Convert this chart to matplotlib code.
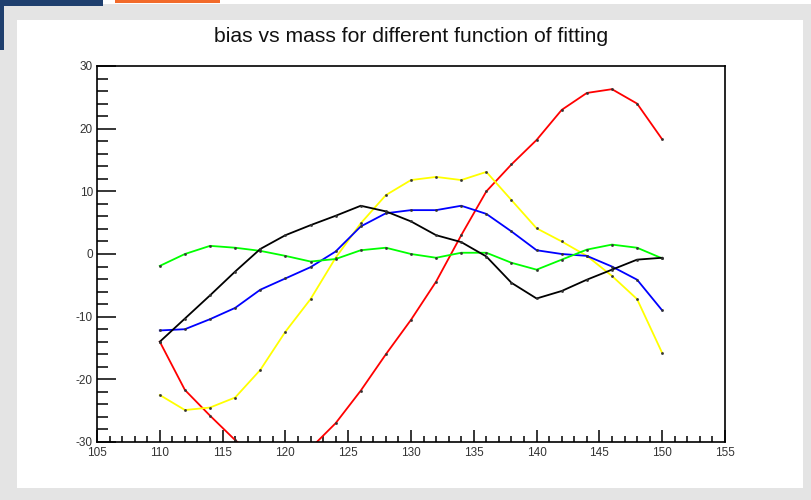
#!/usr/bin/env python3
import matplotlib
matplotlib.use('Agg')
import matplotlib.pyplot as plt
from matplotlib.patches import Rectangle
from matplotlib.ticker import MultipleLocator

plt.rcParams['font.family'] = ['Liberation Sans', 'DejaVu Sans']
plt.rcParams['axes.unicode_minus'] = False

# mass points (GeV)
mass = [110, 112, 114, 116, 118, 120, 122, 124, 126, 128, 130,
        132, 134, 136, 138, 140, 142, 144, 146, 148, 150]

# bias for each fit function
bias_red = [-14.0, -21.7, -25.8, -29.7, -33.0, -34.0, -31.0, -27.0, -21.8, -16.0, -10.5,
            -4.4, 3.0, 10.0, 14.3, 18.2, 23.0, 25.7, 26.3, 24.0, 18.3]
bias_yellow = [-22.5, -24.9, -24.5, -22.9, -18.5, -12.4, -7.2, -0.6, 4.9, 9.4, 11.8,
               12.3, 11.8, 13.1, 8.6, 4.1, 2.0, -0.3, -3.5, -7.2, -15.8]
bias_blue = [-12.2, -12.0, -10.4, -8.6, -5.7, -3.9, -2.1, 0.4, 4.4, 6.5, 7.0,
             7.0, 7.7, 6.4, 3.6, 0.6, 0.0, -0.3, -2.0, -4.1, -9.0]
bias_green = [-1.9, 0.0, 1.3, 1.0, 0.5, -0.3, -1.2, -0.8, 0.6, 1.0, 0.0,
              -0.6, 0.2, 0.2, -1.4, -2.5, -0.9, 0.7, 1.5, 1.0, -0.7]
bias_black = [-14.0, -10.3, -6.6, -2.8, 0.8, 3.0, 4.6, 6.1, 7.7, 6.8, 5.2,
              3.0, 1.9, -0.4, -4.6, -7.1, -5.9, -4.1, -2.5, -0.9, -0.6]

W, H = 811, 500


def px_rect(fig, x0, y0, x1, y1, color):
    # rectangle given in pixel coords measured from the top-left corner
    r = Rectangle((x0 / W, 1 - y1 / H), (x1 - x0) / W, (y1 - y0) / H,
                  transform=fig.transFigure, facecolor=color, edgecolor='none', zorder=-10)
    fig.add_artist(r)


def main():
    fig = plt.figure(figsize=(W / 100, H / 100), dpi=100, facecolor='white')

    # window frame around the canvas
    px_rect(fig, 0, 4, W, H, '#e4e4e4')
    px_rect(fig, 17, 20, 803, 488, 'white')
    px_rect(fig, 0, 0, 103, 6, '#1f3f6e')
    px_rect(fig, 0, 0, 4, 50, '#1f3f6e')
    px_rect(fig, 115, 0, 220, 3, '#f26a2a')

    ax = fig.add_axes([97 / W, 1 - 442 / H, (725 - 97) / W, (442 - 66) / H])

    for y, c in [(bias_red, '#ff0000'), (bias_yellow, '#ffff00'), (bias_blue, '#0000ff'),
                 (bias_green, '#00ff00'), (bias_black, '#000000')]:
        ax.plot(mass, y, color=c, lw=1.3, marker='s', ms=0.9,
                mfc='#333333', mec='#333333', clip_on=True)

    ax.set_xlim(105, 155)
    ax.set_ylim(-30, 30)
    ax.xaxis.set_major_locator(MultipleLocator(5))
    ax.xaxis.set_minor_locator(MultipleLocator(1))
    ax.yaxis.set_major_locator(MultipleLocator(10))
    ax.yaxis.set_minor_locator(MultipleLocator(2))
    ax.tick_params(axis='x', which='major', direction='in', length=8.5, width=1.1,
                   pad=3.5, labelsize=8.5, labelcolor='#333333')
    ax.tick_params(axis='x', which='minor', direction='in', length=4.3, width=1.1)
    ax.tick_params(axis='y', which='major', direction='in', length=13.5, width=1.1,
                   pad=3, labelsize=8.5, labelcolor='#333333')
    ax.tick_params(axis='y', which='minor', direction='in', length=7.8, width=1.1)
    for s in ax.spines.values():
        s.set_linewidth(1.2)

    fig.text(411 / W, 1 - 36 / H, 'bias vs mass for different function of fitting',
             ha='center', va='center', fontsize=15.2, color='#111111')

    fig.savefig('out.png', dpi=100, facecolor=fig.get_facecolor())


if __name__ == '__main__':
    main()
